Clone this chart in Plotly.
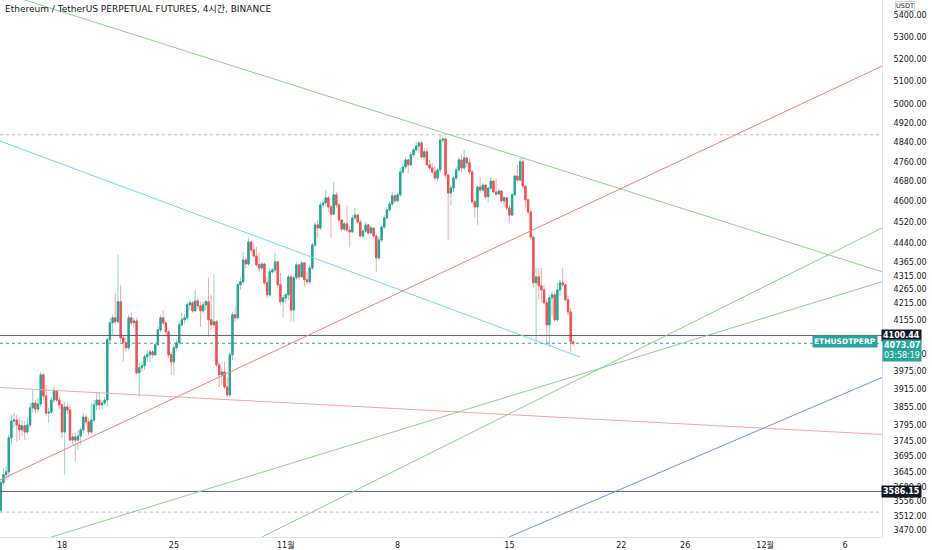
import numpy as np
import pandas as pd
import plotly.graph_objects as go

# ETHUSDT perpetual, 4h candles
open_ = [3529, 3613, 3638, 3647, 3755, 3810, 3813, 3797, 3781, 3794,
         3774, 3797, 3853, 3869, 3849, 3866, 3964, 3893, 3836, 3839,
         3879, 3910, 3879, 3863, 3774, 3856, 3846, 3748, 3758, 3748,
         3761, 3781, 3823, 3807, 3774, 3813, 3863, 3879, 3863, 3869,
         3879, 4085, 4145, 4163, 4149, 4221, 4092, 4075, 4057, 4163,
         4145, 4152, 3971, 3988, 3995, 4026, 4033, 4043, 4033, 4068,
         4120, 4163, 4145, 4113, 4033, 4008, 4057, 4075, 4138, 4156,
         4163, 4210, 4217, 4188, 4224, 4206, 4188, 4210, 4221, 4156,
         4138, 4149, 3998, 3964, 3974, 3923, 3896, 4033, 4174, 4163,
         4283, 4294, 4375, 4360, 4443, 4413, 4390, 4357, 4345, 4360,
         4290, 4246, 4331, 4338, 4368, 4283, 4221, 4235, 4246, 4312,
         4191, 4309, 4357, 4312, 4364, 4301, 4294, 4345, 4432, 4509,
         4497, 4587, 4595, 4615, 4579, 4551, 4627, 4587, 4528, 4493,
         4513, 4489, 4482, 4536, 4547, 4520, 4466, 4485, 4509, 4478,
         4497, 4466, 4383, 4451, 4501, 4536, 4567, 4591, 4623, 4603,
         4627, 4719, 4739, 4768, 4748, 4789, 4809, 4825, 4838, 4780,
         4801, 4748, 4735, 4719, 4694, 4727, 4850, 4854, 4706, 4634,
         4654, 4694, 4727, 4768, 4735, 4776, 4756, 4719, 4599, 4579,
         4658, 4646, 4666, 4619, 4654, 4682, 4638, 4630, 4642, 4603,
         4615, 4575, 4547, 4627, 4702, 4686, 4760, 4662, 4607, 4559,
         4462, 4290, 4312, 4279, 4264, 4217, 4138, 4235, 4246, 4156,
         4264, 4290, 4283, 4228, 4184, 4078]
high = [3619, 3659, 3665, 3765, 3830, 3836, 3830, 3820, 3813, 3810,
        3820, 3869, 3913, 3879, 3886, 3974, 3971, 3930, 3853, 3889,
        3923, 3913, 3889, 3869, 3873, 3869, 3863, 3771, 3771, 3781,
        3788, 3836, 3830, 3820, 3869, 3879, 3906, 3906, 3879, 3889,
        4092, 4163, 4174, 4253, 4394, 4283, 4103, 4092, 4174, 4181,
        4163, 4163, 4005, 4008, 4033, 4050, 4050, 4050, 4078, 4131,
        4174, 4191, 4149, 4120, 4043, 4068, 4085, 4149, 4181, 4174,
        4221, 4228, 4224, 4264, 4235, 4221, 4221, 4228, 4309, 4246,
        4320, 4156, 4008, 3991, 4008, 3957, 4043, 4184, 4202, 4290,
        4309, 4405, 4386, 4459, 4447, 4440, 4424, 4402, 4368, 4364,
        4312, 4345, 4345, 4402, 4368, 4327, 4246, 4253, 4320, 4320,
        4316, 4368, 4357, 4371, 4368, 4331, 4357, 4440, 4520, 4528,
        4599, 4607, 4646, 4623, 4587, 4678, 4638, 4595, 4528, 4520,
        4587, 4505, 4547, 4575, 4551, 4528, 4493, 4520, 4513, 4505,
        4497, 4474, 4462, 4509, 4547, 4579, 4599, 4638, 4630, 4634,
        4735, 4752, 4780, 4772, 4801, 4817, 4842, 4846, 4846, 4817,
        4817, 4768, 4756, 4744, 4735, 4872, 4868, 4863, 4711, 4666,
        4702, 4739, 4780, 4789, 4809, 4780, 4776, 4727, 4607, 4666,
        4698, 4674, 4666, 4658, 4698, 4686, 4694, 4650, 4646, 4623,
        4619, 4587, 4634, 4706, 4748, 4776, 4776, 4662, 4611, 4567,
        4466, 4345, 4345, 4345, 4283, 4228, 4246, 4257, 4257, 4290,
        4301, 4345, 4286, 4242, 4199, 4085]
low = [3523, 3607, 3622, 3628, 3732, 3788, 3742, 3748, 3761, 3748,
       3768, 3788, 3839, 3836, 3839, 3856, 3879, 3826, 3804, 3833,
       3869, 3873, 3849, 3755, 3638, 3833, 3742, 3732, 3678, 3716,
       3732, 3771, 3797, 3761, 3768, 3807, 3846, 3846, 3849, 3863,
       3859, 4078, 4103, 4138, 4142, 4078, 4008, 4043, 4050, 4134,
       4127, 3964, 3889, 3974, 3981, 4008, 4008, 4022, 4029, 4064,
       4110, 4138, 4099, 4022, 3964, 3964, 4047, 4068, 4131, 4142,
       4156, 4191, 4181, 4184, 4195, 4131, 4181, 4191, 4096, 4120,
       4127, 3991, 3923, 3930, 3916, 3889, 3889, 4015, 4149, 4156,
       4264, 4286, 4345, 4353, 4402, 4383, 4349, 4331, 4338, 4283,
       4235, 4239, 4323, 4327, 4272, 4210, 4163, 4217, 4228, 4149,
       4149, 4301, 4301, 4309, 4275, 4283, 4286, 4338, 4424, 4459,
       4489, 4575, 4583, 4559, 4459, 4547, 4575, 4520, 4485, 4485,
       4482, 4424, 4478, 4528, 4513, 4459, 4459, 4478, 4470, 4474,
       4459, 4331, 4375, 4443, 4493, 4532, 4559, 4583, 4595, 4599,
       4619, 4711, 4731, 4715, 4744, 4780, 4801, 4797, 4776, 4768,
       4744, 4727, 4711, 4686, 4682, 4715, 4838, 4694, 4451, 4587,
       4638, 4686, 4719, 4719, 4727, 4739, 4711, 4591, 4540, 4509,
       4634, 4638, 4611, 4595, 4646, 4634, 4623, 4627, 4595, 4579,
       4567, 4520, 4544, 4623, 4678, 4682, 4654, 4575, 4547, 4455,
       4272, 4078, 4228, 4221, 4210, 4068, 4061, 4170, 4149, 4149,
       4242, 4275, 4221, 4170, 4043, 4064]
close = [3613, 3638, 3647, 3755, 3810, 3813, 3797, 3781, 3794, 3774,
         3797, 3853, 3869, 3849, 3866, 3964, 3893, 3836, 3839, 3879,
         3910, 3879, 3863, 3774, 3856, 3846, 3748, 3758, 3748, 3761,
         3781, 3823, 3807, 3774, 3813, 3863, 3879, 3863, 3869, 3879,
         4085, 4145, 4163, 4149, 4221, 4092, 4075, 4057, 4163, 4145,
         4152, 3971, 3988, 3995, 4026, 4033, 4043, 4033, 4068, 4120,
         4163, 4145, 4113, 4033, 4008, 4057, 4075, 4138, 4156, 4163,
         4210, 4217, 4188, 4224, 4206, 4188, 4210, 4221, 4156, 4138,
         4149, 3998, 3964, 3974, 3923, 3896, 4033, 4174, 4163, 4283,
         4294, 4375, 4360, 4443, 4413, 4390, 4357, 4345, 4360, 4290,
         4246, 4331, 4338, 4368, 4283, 4221, 4235, 4246, 4312, 4191,
         4309, 4357, 4312, 4364, 4301, 4294, 4345, 4432, 4509, 4497,
         4587, 4595, 4615, 4579, 4551, 4627, 4587, 4528, 4493, 4513,
         4489, 4482, 4536, 4547, 4520, 4466, 4485, 4509, 4478, 4497,
         4466, 4383, 4451, 4501, 4536, 4567, 4591, 4623, 4603, 4627,
         4719, 4739, 4768, 4748, 4789, 4809, 4825, 4838, 4780, 4801,
         4748, 4735, 4719, 4694, 4727, 4850, 4854, 4706, 4634, 4654,
         4694, 4727, 4768, 4735, 4776, 4756, 4719, 4599, 4579, 4658,
         4646, 4666, 4619, 4654, 4682, 4638, 4630, 4642, 4603, 4615,
         4575, 4547, 4627, 4702, 4686, 4760, 4662, 4607, 4559, 4462,
         4290, 4312, 4279, 4264, 4217, 4138, 4235, 4246, 4156, 4264,
         4290, 4283, 4228, 4184, 4078, 4073.07]

times = pd.date_range("2021-10-14 04:00", periods=len(close), freq="4h")

# drawn trend lines: (start, end) dates and prices
x_start = "2021-10-14 02:50"
x_end = "2021-12-08 07:34"
green_top_x = [x_start, x_end]
green_top_y = [5507, 4331]
cyan_x = [x_start, "2021-11-19 09:56"]
cyan_y = [4846, 4025]
red_up_x = [x_start, x_end]
red_up_y = [3622, 5168]
red_down_x = [x_start, x_end]
red_down_y = [3921, 3766]
green_low_x = [x_start, x_end]
green_low_y = [3402, 4294]
green_steep_x = ["2021-10-30 12:20", x_end]
green_steep_y = [3448.5, 4497]
blue_x = ["2021-11-14 23:13", x_end]
blue_y = [3448.5, 3955]

# horizontal levels
level_solid = [4100.44, 3586.15]
level_dotted = [4872, 3523]
last_price = 4073.07

ytick_vals = [5400, 5300, 5200, 5100, 5000, 4920, 4840, 4760, 4680, 4600,
              4520, 4440, 4365, 4315, 4265, 4215, 4155, 4035, 3975, 3915,
              3855, 3795, 3745, 3695, 3645, 3600, 3556, 3512, 3470]
xtick_vals = ["2021-10-18", "2021-10-25", "2021-11-01", "2021-11-08", "2021-11-15",
              "2021-11-22", "2021-11-26", "2021-12-01", "2021-12-06"]
xtick_text = ["18", "25", "11월", "8", "15", "22", "26", "12월", "6"]

UP = "#26a69a"
DOWN = "#ef5350"
FONT = "DejaVu Sans, Noto Sans CJK KR"

fig = go.Figure()

# horizontal lines
for p in level_solid:
    fig.add_trace(go.Scatter(x=[x_start, x_end], y=[p, p], mode="lines",
                             line=dict(color="#5d606b", width=1), hoverinfo="skip"))
for p in level_dotted:
    fig.add_trace(go.Scatter(x=[x_start, x_end], y=[p, p], mode="lines",
                             line=dict(color="#b8bbc3", width=1, dash="dot"), hoverinfo="skip"))
fig.add_trace(go.Scatter(x=[x_start, x_end], y=[last_price, last_price], mode="lines",
                         line=dict(color=UP, width=1, dash="dot"), hoverinfo="skip"))

# trend lines
for xs, ys, col in [(green_top_x, green_top_y, "#8fce91"),
                    (cyan_x, cyan_y, "#72d8e6"),
                    (red_up_x, red_up_y, "#f77c80"),
                    (red_down_x, red_down_y, "#f8a3a6"),
                    (green_low_x, green_low_y, "#8fce91"),
                    (green_steep_x, green_steep_y, "#8fce91"),
                    (blue_x, blue_y, "#6f8ef0")]:
    fig.add_trace(go.Scatter(x=xs, y=ys, mode="lines", line=dict(color=col, width=1),
                             hoverinfo="skip"))

# wicks (lighter) then bodies on top
fig.add_trace(go.Candlestick(
    x=times, open=open_, high=high, low=low, close=close,
    increasing=dict(line=dict(color="rgba(38,166,154,0.5)", width=1),
                    fillcolor="rgba(38,166,154,0.5)"),
    decreasing=dict(line=dict(color="rgba(239,83,80,0.5)", width=1),
                    fillcolor="rgba(239,83,80,0.5)"),
    hoverinfo="skip"))
body_hi = np.maximum(open_, close)
body_lo = np.minimum(open_, close)
fig.add_trace(go.Candlestick(
    x=times, open=open_, high=body_hi, low=body_lo, close=close,
    increasing=dict(line=dict(color=UP, width=1), fillcolor=UP),
    decreasing=dict(line=dict(color=DOWN, width=1), fillcolor=DOWN),
    hoverinfo="skip"))

fig.update_layout(
    width=932, height=550,
    margin=dict(l=0, r=50, t=0, b=13),
    paper_bgcolor="white", plot_bgcolor="white",
    showlegend=False, hovermode=False,
    font=dict(family=FONT, size=8, color="#131722"),
    xaxis=dict(type="date", range=[x_start, x_end], rangeslider=dict(visible=False),
               tickvals=xtick_vals, ticktext=xtick_text, showgrid=False, zeroline=False,
               showline=True, linecolor="#e0e3eb", ticks="", automargin=False,
               ticklabelstandoff=0, tickfont=dict(size=8, color="#131722")),
    yaxis=dict(type="log", side="right", range=[np.log10(3448.5), np.log10(5470)],
               tickvals=ytick_vals, ticktext=["%.2f" % v for v in ytick_vals],
               showgrid=False, zeroline=False, showline=True, linecolor="#e0e3eb",
               ticks="", automargin=False, ticklabelstandoff=9,
               tickfont=dict(size=8, color="#131722")),
)

ann = []
ann.append(dict(xref="paper", yref="paper", x=0, y=1, xanchor="left", yanchor="top",
                xshift=3, yshift=-2, showarrow=False,
                text="Ethereum / TetherUS PERPETUAL FUTURES, 4시간, BINANCE",
                font=dict(family=FONT, size=9, color="#131722")))
ann.append(dict(xref="paper", yref="paper", x=1, y=1, xanchor="left", yanchor="top",
                xshift=13, yshift=-1, showarrow=False, text="USDT",
                bordercolor="#d1d4dc", borderwidth=1, borderpad=0,
                font=dict(size=6.5, color="#131722")))
for p in level_solid:
    ann.append(dict(xref="paper", yref="y", x=1, y=np.log10(p), xanchor="left",
                    yanchor="middle", xshift=-1, showarrow=False, text="<b>%.2f</b>" % p,
                    bgcolor="#131722", borderpad=1,
                    font=dict(size=8, color="white")))
ann.append(dict(xref="paper", yref="y", x=1, y=np.log10(last_price), xanchor="left",
                yanchor="top", yshift=4, showarrow=False,
                text="<b>%.2f</b><br>03:58:19" % last_price, align="left",
                bgcolor=UP, borderpad=1, font=dict(size=8, color="white")))
ann.append(dict(xref="paper", yref="y", x=1, y=np.log10(last_price), xanchor="right",
                yanchor="middle", xshift=-4, yshift=2, showarrow=False,
                text="<b>ETHUSDTPERP</b>",
                bgcolor=UP, borderpad=1, font=dict(size=7.5, color="white")))
fig.update_layout(annotations=ann)

fig.write_html("out.html", config={"displayModeBar": False},
               post_script="document.body.style.margin='0px';")
